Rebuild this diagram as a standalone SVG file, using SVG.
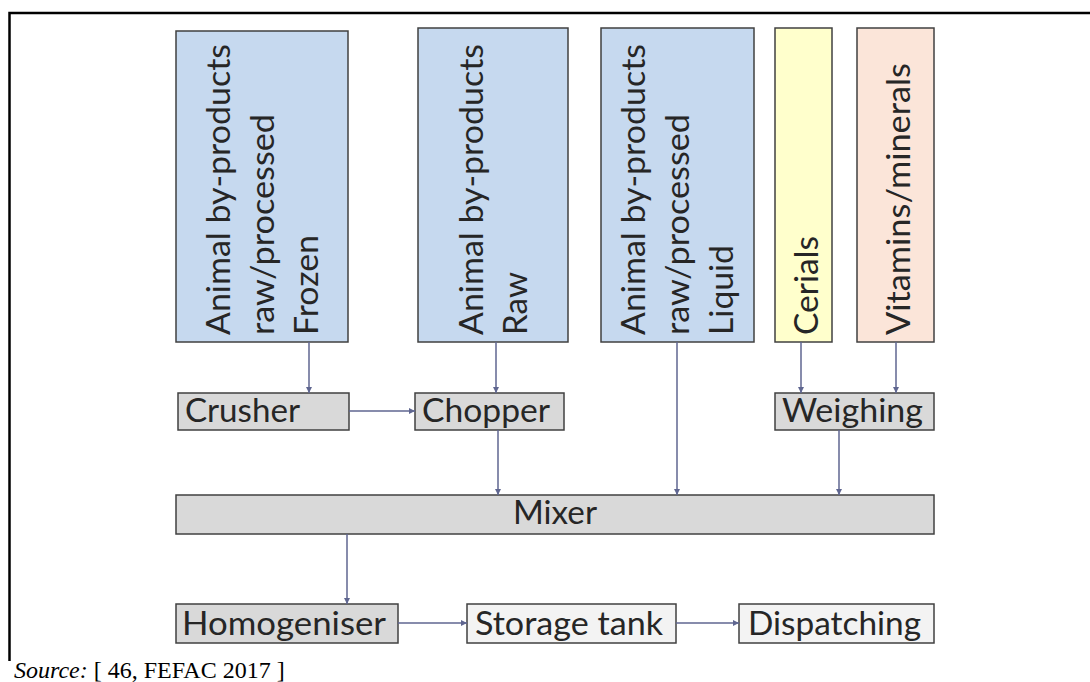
<svg xmlns="http://www.w3.org/2000/svg" width="1090" height="682" viewBox="0 0 1090 682">
<style>
.box{stroke:#404040;stroke-width:1.5}
.blue{fill:#C6D9EF}
.yel{fill:#FFFFCC}
.peach{fill:#FBE5D9}
.gray{fill:#D9D9D9}
.light{fill:#F3F3F3}
.t{font-family:Lato,"Liberation Sans",sans-serif;font-size:33px;fill:#262626}
.c{stroke:#5F6690;stroke-width:1.5;fill:none;marker-end:url(#ah)}
.src{font-family:"Liberation Serif",serif;font-size:24px;fill:#000}
</style>
<defs>
<marker id="ah" viewBox="0 0 10 10" refX="10" refY="5" markerWidth="6" markerHeight="6" markerUnits="userSpaceOnUse" orient="auto">
<path d="M0,0 L10,5 L0,10 z" fill="#5F6690"/>
</marker>
</defs>
<rect width="1090" height="682" fill="#fff"/>
<path d="M9.5,661 V13 H1090" fill="none" stroke="#000" stroke-width="2.5"/>

<g id="frozen">
<rect class="box blue" x="176" y="31" width="172" height="311"/>
<text class="t" transform="translate(230,335) rotate(-90)" textLength="291" lengthAdjust="spacingAndGlyphs">Animal by-products</text>
<text class="t" transform="translate(274,335) rotate(-90)" textLength="221" lengthAdjust="spacingAndGlyphs">raw/processed</text>
<text class="t" transform="translate(318,335) rotate(-90)" textLength="100" lengthAdjust="spacingAndGlyphs">Frozen</text>
</g>
<g id="raw">
<rect class="box blue" x="418" y="28" width="150" height="314"/>
<text class="t" transform="translate(483,335) rotate(-90)" textLength="291" lengthAdjust="spacingAndGlyphs">Animal by-products</text>
<text class="t" transform="translate(527,335) rotate(-90)" textLength="63" lengthAdjust="spacingAndGlyphs">Raw</text>
</g>
<g id="liquid">
<rect class="box blue" x="601" y="28" width="153" height="314"/>
<text class="t" transform="translate(645,335) rotate(-90)" textLength="291" lengthAdjust="spacingAndGlyphs">Animal by-products</text>
<text class="t" transform="translate(689,335) rotate(-90)" textLength="221" lengthAdjust="spacingAndGlyphs">raw/processed</text>
<text class="t" transform="translate(733,335) rotate(-90)" textLength="90" lengthAdjust="spacingAndGlyphs">Liquid</text>
</g>
<g id="cerials">
<rect class="box yel" x="775" y="28" width="57" height="314"/>
<text class="t" transform="translate(818,335) rotate(-90)" textLength="99" lengthAdjust="spacingAndGlyphs">Cerials</text>
</g>
<g id="vitamins">
<rect class="box peach" x="857" y="28" width="77" height="314"/>
<text class="t" transform="translate(910,335) rotate(-90)" textLength="272" lengthAdjust="spacingAndGlyphs">Vitamins/minerals</text>
</g>

<g id="crusher">
<rect class="box gray" x="178" y="393" width="171" height="37"/>
<text class="t" x="185" y="422" textLength="115" lengthAdjust="spacingAndGlyphs">Crusher</text>
</g>
<g id="chopper">
<rect class="box gray" x="415" y="393" width="149" height="37"/>
<text class="t" x="422" y="422" textLength="128" lengthAdjust="spacingAndGlyphs">Chopper</text>
</g>
<g id="weighing">
<rect class="box gray" x="775" y="393" width="159" height="37"/>
<text class="t" x="782" y="422" textLength="141" lengthAdjust="spacingAndGlyphs">Weighing</text>
</g>
<g id="mixer">
<rect class="box gray" x="176" y="495" width="758" height="39"/>
<text class="t" x="513" y="524" textLength="84" lengthAdjust="spacingAndGlyphs">Mixer</text>
</g>
<g id="homogeniser">
<rect class="box gray" x="176" y="604" width="222" height="39"/>
<text class="t" x="182" y="635" textLength="204" lengthAdjust="spacingAndGlyphs">Homogeniser</text>
</g>
<g id="storage">
<rect class="box light" x="467" y="604" width="209" height="39"/>
<text class="t" x="475" y="635" textLength="188" lengthAdjust="spacingAndGlyphs">Storage tank</text>
</g>
<g id="dispatching">
<rect class="box light" x="739" y="604" width="195" height="39"/>
<text class="t" x="748" y="635" textLength="173" lengthAdjust="spacingAndGlyphs">Dispatching</text>
</g>

<g id="connectors">
<line class="c" x1="309" y1="342" x2="309" y2="393"/>
<line class="c" x1="496" y1="342" x2="496" y2="393"/>
<line class="c" x1="349" y1="411" x2="415" y2="411"/>
<line class="c" x1="498" y1="430" x2="498" y2="495"/>
<line class="c" x1="677" y1="342" x2="677" y2="495"/>
<line class="c" x1="801" y1="342" x2="801" y2="393"/>
<line class="c" x1="896" y1="342" x2="896" y2="393"/>
<line class="c" x1="839" y1="430" x2="839" y2="495"/>
<line class="c" x1="347" y1="534" x2="347" y2="604"/>
<line class="c" x1="398" y1="623" x2="467" y2="623"/>
<line class="c" x1="676" y1="623" x2="739" y2="623"/>
</g>

<text class="src" x="14" y="678"><tspan font-style="italic">Source:</tspan> [ 46, FEFAC 2017 ]</text>
</svg>
